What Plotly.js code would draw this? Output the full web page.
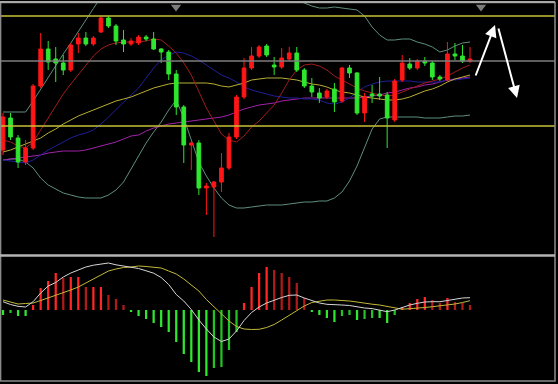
<!DOCTYPE html>
<html>
<head>
<meta charset="utf-8">
<script src="https://cdn.plot.ly/plotly-3.0.1.min.js"></script>
<style>
html,body{margin:0;padding:0;background:#000;}
#chart{width:558px;height:384px;}
</style>
</head>
<body>
<div id="chart"></div>
<script>
// ---- candle data (price units) ----
const open  = [150,182,162,138,152,214,251,241,237,230, 256,262,256,268,282,274,260,256,257,263, 261,251,248,226,193,155,157,112,113,118, 132,163,203,232,244,254,235,233,241,247, 230,214,207,203,211,199,232,227,187,206, 206,205,180,220,236,232,239,237,223,220, 246,244,239];
const high  = [187,187,165,160,216,267,259,253,245,257, 267,268,264,284,284,276,270,262,265,265, 268,252,250,230,195,158,160,117,119,147, 167,205,242,253,255,256,243,252,253,253, 232,222,212,211,217,233,235,228,207,215, 223,208,221,245,242,241,243,239,225,258, 257,255,253];
const low   = [145,160,132,135,150,212,230,218,225,228, 247,254,254,267,272,255,248,254,255,259, 250,237,220,185,137,130,105,85,63,108, 130,161,201,230,242,243,225,231,239,228, 212,203,197,201,188,197,222,185,178,197, 200,152,178,218,230,230,234,220,219,218, 240,237,237];
const close = [183,163,138,152,214,251,238,237,230,255, 262,256,262,282,274,259,256,259,263,261, 251,248,226,193,155,157,112,114,118,132, 163,203,232,244,253,245,233,242,247,230, 214,208,202,209,198,232,227,187,203,204, 204,182,219,237,232,239,237,223,221,246, 244,239,241];

// ---- overlay lines (price units) ----
const bollUpper = [188,188,188,188,199,211,222,234,246,257, 269,280,291.5,303,310,318,324,328,330,330, 328,322,315,310,308,310,315,322,330,335, 338,338,335,330,324,318,312,307,303,300, 297,294,292,292,293,292,291,290,284,273, 265,260,260,261,261,258,256,253,248,250, 254,257,258];
const bollLower = [140,141,141,138,132,122,115,111,107,105, 103,102,102,102,105,110,118,131,145,157, 168,178,190,200,182,160,138,124,112,102, 95,92,92,93,94,95,95,95,96,97, 98,98,99,99,102,108,119,134,153,171, 181,183,183,183,183,183,182,182,182,183, 184,184,185];
const ma20Blue  = [140,139,138,137,140,145,150,154,158,162, 165,167,170,176,183,190,198,205,212,222, 232,240,245,248,247,244,240,235,230,225, 222,218,213,210,208,206,204,203,202,202, 201,201,200,197,196,198,202,208,213,216, 218,219,219,219,219,218,218,218,218,220, 220,221,222];
const ma10Red   = [160,158,154,152,158,170,183,195,206,216, 225,235,244,251,255,257,258,258,258,259, 261,260,254,247,237,225,208,192,179,166, 160,158,164,173,179,187,195,207,220,230, 235,236,234,230,224,220,216,212,209,207, 205,204,205,208,211,214,217,219,221,224, 228,232,235];
const maYellow  = [148,150,153,156,159,162,167,171,176,180, 184,187,190,193,196,199,201,203,206,209, 212,214,216,217,217,217,217,217,216,214, 213,215,217,220,221,222,222,222,221,220, 218,216,215,213,210,208,207,205,203,202, 201,200,200,201,203,206,209,211,214,218, 221,223,225];
const maPurple  = [140,141,142,143,144,145,147,148,149,149, 149,150,152,154,156,158,161,164,165,169, 172,174,176,177,178,179,180,181,182,183, 185,188,191,193,195,196,197,199,200,201, 202,202,202,202,202,202,202,202,203,204, 205,207,208,210,212,213,215,216,218,220, 221,222,223];

// ---- MACD ----
const macdHist = [-5,-3,-6,-6,5,22,29,37,32,33, 33,23,23,23,15,11,5,-2,-6,-9, -13,-17,-22,-32,-44,-52,-62,-66,-58,-57, -40,-22,7,23,37,43,40,37,33,27, 12,-2,-5,-8,-12,-6,-5,-10,-9,-8, -8,-13,-5,3,7,11,13,10,7,12, 8,7,5];
const macdDif  = [8.3,5.5,3.7,3,8.3,17,24,27.5,33,37, 40,43,44.8,46,47,45.2,43.8,42.7,41.5,39.2, 36.8,32.5,25.5,15.5,9,0.5,-10,-19,-27,-31.5, -29,-21,-10.5,-2.5,3,7,10,12.5,14.7,15, 12,9.5,7,5.7,5,5,4.5,3,2,1.4, -0.5,-1.7,0,2.7,5,6.7,8,8.3,8.3,9.5, 11,12,12.3];
const macdDea  = [10,8,6,6.5,7,9.5,12,14.5,17.5,20, 23,27,31,35,39,41,42.5,43,44,43.5, 43,42,39,36,31,25,19,10.5,3,-4, -11,-16.5,-19,-19.5,-19.3,-17.5,-14.5,-10,-5.5,-0.5, 4,7.5,9,10,10,9.8,9,8,6.6,5.8, 5,3.5,2,0.8,1.3,1.7,2.5,3.3,4,5, 6,7.5,9.3];

// ---- reference levels, markers, arrows ----
const yellowLevels = [284, 174];
const grayLevels = [239];
const topMarkX = [22.97, 63.46];
const topMarkY = [293, 293];
const arrows = [
  {from: [62.67, 223], to: [65.32, 275]},
  {from: [65.72, 273], to: [68.24, 202]}
];

const idx = open.map((_, i) => i);
const H = 384, W = 558;
const py = p => 1 - p / H;          // pixel row -> paper fraction
const mainRange = [46, 297];
const macdRange = [-71, 53];

function line(y, color, axis) {
  return {type: 'scatter', mode: 'lines', x: idx, y: y, xaxis: 'x', yaxis: axis,
          line: {color: color, width: 1}, hoverinfo: 'skip'};
}

const histColors = macdHist.map((v, i) => {
  const prev = i > 0 ? macdHist[i - 1] : v;
  if (v >= 0) return v >= prev ? '#ff2626' : '#b01a1a';
  return v <= prev ? '#2ee82e' : '#22c422';
});

const traces = [
  line(bollUpper, '#5f8f7c', 'y'),
  line(bollLower, '#5f8f7c', 'y'),
  line(maPurple, '#a023a8', 'y'),
  line(ma20Blue, '#1f1f9a', 'y'),
  line(maYellow, '#b8ae34', 'y'),
  line(ma10Red, '#a01c1c', 'y'),
  {type: 'candlestick', x: idx, open: open, high: high, low: low, close: close,
   xaxis: 'x', yaxis: 'y3',
   increasing: {line: {color: '#ff1616', width: 1}, fillcolor: '#ff1616'},
   decreasing: {line: {color: '#2ee62e', width: 1}, fillcolor: '#2ee62e'},
   whiskerwidth: 0, hoverinfo: 'skip'},
  {type: 'scatter', mode: 'markers', x: topMarkX, y: topMarkY, xaxis: 'x', yaxis: 'y',
   cliponaxis: false, marker: {symbol: 'triangle-down', size: 9, color: '#7c7c7c'}, hoverinfo: 'skip'},
  {type: 'bar', x: idx, y: macdHist, xaxis: 'x', yaxis: 'y2', width: 0.3,
   marker: {color: histColors, line: {width: 0}}, hoverinfo: 'skip'},
  line(macdDea, '#c2b83a', 'y2'),
  line(macdDif, '#d6d6d6', 'y2')
];

const shapes = [];
yellowLevels.forEach(v => shapes.push({type: 'line', xref: 'paper', yref: 'y', x0: 0, x1: 555 / W, y0: v, y1: v,
  line: {color: '#c8c236', width: 1.5}, layer: 'above'}));
grayLevels.forEach(v => shapes.push({type: 'line', xref: 'paper', yref: 'y', x0: 0, x1: 555 / W, y0: v, y1: v,
  line: {color: '#7e7e7e', width: 1.5}, layer: 'above'}));
// frame and panel separator
shapes.push({type: 'rect', xref: 'paper', yref: 'paper', x0: 0.6 / W, x1: 555 / W, y0: py(381), y1: py(2.5),
  line: {color: '#8a8a8a', width: 1.5}, layer: 'above'});
shapes.push({type: 'line', xref: 'paper', yref: 'paper', x0: 0, x1: 555 / W, y0: py(255.5), y1: py(255.5),
  line: {color: '#b4b4b4', width: 2.5}, layer: 'above'});
shapes.push({type: 'line', xref: 'paper', yref: 'paper', x0: 0, x1: 555 / W, y0: py(2), y1: py(2),
  line: {color: '#a8a8a8', width: 2}, layer: 'above'});

const annotations = arrows.map(a => ({
  x: a.to[0], y: a.to[1], ax: a.from[0], ay: a.from[1],
  xref: 'x', yref: 'y', axref: 'x', ayref: 'y',
  showarrow: true, arrowhead: 2, arrowsize: 1.2, arrowwidth: 2, arrowcolor: '#ffffff', text: ''
}));

const layout = {
  width: W, height: H,
  margin: {l: 0, r: 0, t: 0, b: 0, pad: 0},
  paper_bgcolor: '#000', plot_bgcolor: '#000',
  showlegend: false,
  xaxis: {range: [-0.398, 73.68], visible: false, fixedrange: true, rangeslider: {visible: false}, anchor: 'y2'},
  yaxis: {domain: [py(254), py(3)], range: mainRange, visible: false, fixedrange: true},
  yaxis3: {overlaying: 'y', range: mainRange, visible: false, fixedrange: true},
  yaxis2: {domain: [py(381), py(257)], range: macdRange, visible: false, fixedrange: true, zeroline: false},
  shapes: shapes,
  annotations: annotations
};

Plotly.newPlot('chart', traces, layout, {staticPlot: true, displayModeBar: false});
</script>
</body>
</html>
